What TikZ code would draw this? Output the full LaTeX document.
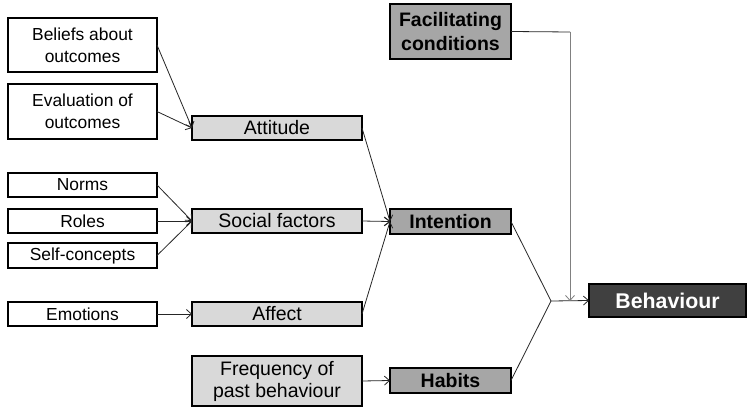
\documentclass[tikz,border=0pt]{standalone}
\usepackage{fontspec}
\setmainfont{Liberation Sans}
\usetikzlibrary{arrows.meta}
\definecolor{lightbox}{HTML}{D9D9D9}
\definecolor{midbox}{HTML}{A6A6A6}
\definecolor{darkbox}{HTML}{404040}
\definecolor{vline}{HTML}{808080}
\begin{document}
\begin{tikzpicture}[x=1pt,y=-1pt,
  base/.style={draw=black,line width=2pt,align=center,inner sep=0pt,outer sep=0pt},
  leftbox/.style={base,fill=white,minimum width=149,font=\fontsize{17.4}{22}\selectfont},
  midnode/.style={base,fill=lightbox,minimum width=170,font=\fontsize{19.5}{22}\selectfont},
  keybox/.style={base,fill=midbox,minimum width=121,font=\fontsize{19.5}{24}\selectfont\bfseries},
  outbox/.style={base,fill=darkbox,text=white,minimum width=157,minimum height=33,font=\fontsize{21.3}{24}\selectfont\bfseries},
  conn/.style={line width=0.8pt,draw=black!85,-{Straight Barb[length=5pt,width=9pt,line width=0.8pt]}},
  plain/.style={line width=0.8pt,draw=black!85}]
\useasboundingbox (0,0) rectangle (751,412);
\fill[white] (0,0) rectangle (751,412);
% left column
\node[leftbox,minimum height=54] (beliefs) at (82.5,45) {Beliefs about\\outcomes};
\node[leftbox,minimum height=55] (eval) at (82.5,111.5) {Evaluation of\\outcomes};
\node[leftbox,minimum height=24] (norms) at (82.5,185) {Norms};
\node[leftbox,minimum height=24] (roles) at (82.5,221) {Roles};
\node[leftbox,minimum height=25] (self) at (82.5,255.5) {Self-concepts};
\node[leftbox,minimum height=24] (emotions) at (82.5,314) {Emotions};
% middle column
\node[midnode,minimum height=24] (attitude) at (277,128) {Attitude};
\node[midnode,minimum height=24] (social) at (277,221) {Social factors};
\node[midnode,minimum height=24] (affect) at (277,314) {Affect};
\node[midnode,minimum height=50] (freq) at (277,381) {Frequency of\\past behaviour};
% key column
\node[keybox,minimum height=55] (facil) at (450.5,31.5) {Facilitating\\conditions};
\node[keybox,minimum height=25] (intention) at (450.5,221.5) {Intention};
\node[keybox,minimum height=25] (habits) at (450.5,380.5) {Habits};
% output
\node[outbox] (behaviour) at (667.5,300.5) {Behaviour};
\coordinate (junc) at (551,301);
\coordinate (corner) at (570,32);
\coordinate (fdown) at (570,301);
% connectors
\draw[conn] (beliefs.east) -- (attitude.west);
\draw[conn] (eval.east) -- (attitude.west);
\draw[conn] (norms.east) -- (social.west);
\draw[conn] (roles.east) -- (social.west);
\draw[conn] (self.east) -- (social.west);
\draw[conn] (emotions.east) -- (affect.west);
\draw[conn] (attitude.east) -- (intention.west);
\draw[conn] (social.east) -- (intention.west);
\draw[conn] (affect.east) -- (intention.west);
\draw[conn] (freq.east) -- (habits.west);
\draw[plain] (intention.east) -- (junc);
\draw[plain] (habits.east) -- (junc);
\draw[conn] (junc) -- (behaviour.west);
\draw[plain] (facil.east) -- (corner);
\draw[conn,draw=vline] (corner) -- (fdown);
\end{tikzpicture}
\end{document}
